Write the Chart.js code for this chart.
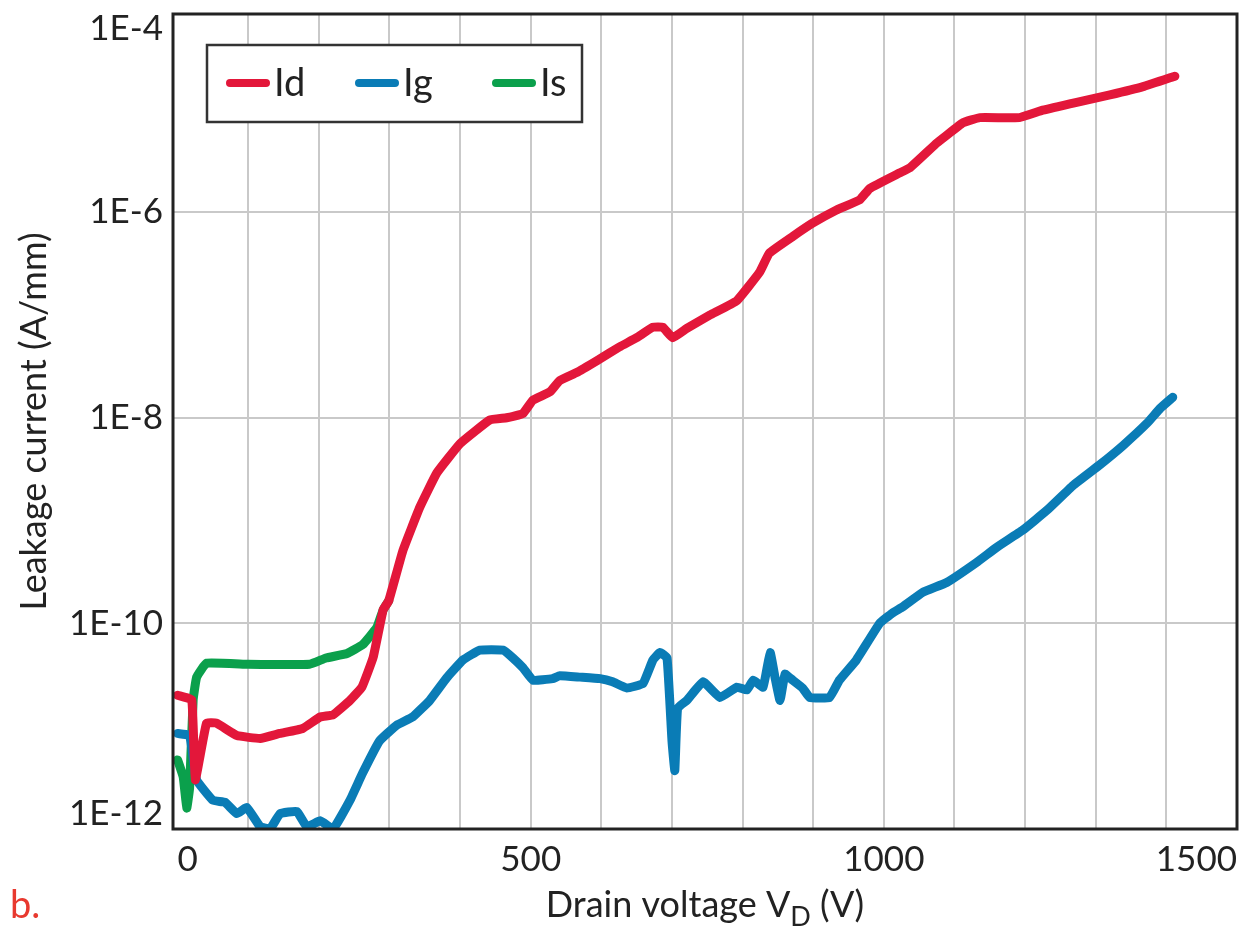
<!DOCTYPE html>
<html>
<head>
<meta charset="utf-8">
<script src="https://cdn.jsdelivr.net/npm/chart.js@4.4.1/dist/chart.umd.min.js"></script>
<style>
  html, body { margin: 0; padding: 0; background: #fff; }
  #wrap { width: 1241px; height: 937px; position: relative; }
</style>
</head>
<body>
<div id="wrap"><canvas id="leakage-chart" width="1241" height="937"></canvas></div>
<script>
// drain voltage (V) and leakage current (A/mm)
const idVolts = [0, 20, 25, 41, 55, 84, 117, 145, 177, 202, 220, 244, 261, 277, 291, 299, 319, 343, 367, 400,
    442, 466, 489, 503, 527, 541, 565, 594, 626, 650, 673, 687, 701, 721, 754, 792, 824, 838, 871, 899,
    933, 966, 980, 1022, 1037, 1075, 1089, 1112, 1136, 1192, 1225, 1273, 1320, 1367, 1412];
const idCurrent = [2.0e-11, 1.8e-11, 3.0e-12, 1.07e-11, 1.07e-11, 8.1e-12, 7.6e-12, 8.5e-12, 9.5e-12, 1.23e-11,
    1.29e-11, 1.78e-11, 2.4e-11, 4.7e-11, 1.35e-10, 1.66e-10, 5.1e-10, 1.35e-9, 2.9e-9, 5.6e-9,
    9.5e-9, 1.0e-8, 1.1e-8, 1.48e-8, 1.78e-8, 2.3e-8, 2.75e-8, 3.6e-8, 4.9e-8, 6.0e-8,
    7.6e-8, 7.6e-8, 6.0e-8, 7.4e-8, 1.0e-7, 1.38e-7, 2.6e-7, 4.0e-7, 5.8e-7, 7.8e-7,
    1.05e-6, 1.32e-6, 1.7e-6, 2.4e-6, 2.7e-6, 4.7e-6, 5.6e-6, 7.4e-6, 8.3e-6, 8.3e-6,
    9.8e-6, 1.17e-5, 1.38e-5, 1.66e-5, 2.1e-5];

const igVolts = [0, 17, 27, 50, 67, 84, 98, 117, 131, 145, 169, 183, 202, 220, 244, 262, 286, 310, 333, 357,
    381, 404, 428, 461, 475, 489, 503, 531, 541, 570, 598, 616, 636, 659, 673, 683, 693, 700, 704, 708,
    721, 744, 768, 792, 806, 815, 829, 839, 846, 853, 860, 871, 885, 895, 923, 937, 961, 994, 1012, 1027,
    1055, 1089, 1131, 1160, 1197, 1231, 1268, 1306, 1339, 1373, 1391, 1409];
const igCurrent = [8.5e-12, 8.1e-12, 3.0e-12, 1.9e-12, 1.82e-12, 1.41e-12, 1.62e-12, 1.05e-12, 1.0e-12, 1.41e-12,
    1.48e-12, 1.05e-12, 1.2e-12, 1.0e-12, 1.9e-12, 3.5e-12, 7.2e-12, 1.02e-11, 1.23e-11, 1.78e-11,
    2.95e-11, 4.4e-11, 5.5e-11, 5.5e-11, 4.6e-11, 3.7e-11, 2.8e-11, 2.9e-11, 3.1e-11, 3.0e-11,
    2.9e-11, 2.7e-11, 2.35e-11, 2.6e-11, 4.4e-11, 5.2e-11, 4.6e-11, 7.2e-12, 3.7e-12, 1.5e-11,
    1.78e-11, 2.7e-11, 1.9e-11, 2.4e-11, 2.25e-11, 2.8e-11, 2.4e-11, 5.2e-11, 2.95e-11, 1.78e-11,
    3.2e-11, 2.8e-11, 2.35e-11, 1.9e-11, 1.9e-11, 2.8e-11, 4.4e-11, 1.0e-10, 1.26e-10, 1.45e-10,
    2.0e-10, 2.5e-10, 3.9e-10, 5.5e-10, 8.1e-10, 1.26e-9, 2.2e-9, 3.5e-9, 5.4e-9, 8.9e-9,
    1.23e-8, 1.58e-8];

const isVolts = [0, 8, 13, 17, 22, 27, 41, 100, 187, 210, 240, 262, 282, 291, 299];
const isCurrent = [4.7e-12, 3.2e-12, 1.6e-12, 2.5e-12, 1.8e-11, 3.0e-11, 4.1e-11, 4.0e-11, 4.0e-11, 4.6e-11,
    5.1e-11, 6.2e-11, 9.1e-11, 1.35e-10, 1.66e-10];

const seriesNames = ['Id', 'Ig', 'Is'];
const seriesColors = ['#e3173a', '#0a7cb6', '#0ba04c'];

const xTickValues = [0, 100, 200, 300, 400, 500, 600, 700, 800, 900, 1000, 1100, 1200, 1300, 1400, 1500];
const xTickLabels = ['0', '', '', '', '', '500', '', '', '', '', '1000', '', '', '', '', '1500'];
const yTickValues = [1e-12, 1e-10, 1e-8, 1e-6, 8.45e-5];
const yTickLabels = ['1E-12', '1E-10', '1E-8', '1E-6', '1E-4'];

function toPoints(volts, current) {
    return volts.map((v, i) => ({ x: v, y: current[i] }));
}

Chart.defaults.font.family = 'Lato';
Chart.defaults.color = '#222';

// white legend box with a dark border, inside the plot
const legendBox = {
    id: 'legendBox',
    afterDraw(chart) {
        const ctx = chart.ctx;
        ctx.save();
        ctx.fillStyle = '#fff';
        ctx.fillRect(207, 45, 375, 77);
        ctx.strokeStyle = '#333';
        ctx.lineWidth = 2.5;
        ctx.strokeRect(207, 45, 375, 77);
        const starts = [227, 356, 493];
        ctx.font = '38px Lato';
        ctx.textBaseline = 'alphabetic';
        chart.data.datasets.forEach((ds, i) => {
            ctx.beginPath();
            ctx.lineCap = 'round';
            ctx.strokeStyle = ds.borderColor;
            ctx.lineWidth = 8;
            ctx.moveTo(starts[i] + 3, 83);
            ctx.lineTo(starts[i] + 39, 83);
            ctx.stroke();
            ctx.fillStyle = '#222';
            ctx.fillText(ds.label, starts[i] + 47, 96);
        });
        ctx.restore();
    }
};

// plot frame, x title with subscript, panel letter
const frameAndText = {
    id: 'frameAndText',
    afterDatasetsDraw(chart) {
        const a = chart.chartArea;
        const ctx = chart.ctx;
        ctx.save();
        ctx.strokeStyle = '#222';
        ctx.lineWidth = 3;
        ctx.strokeRect(a.left, a.top, a.right - a.left, a.bottom - a.top);
        ctx.restore();
    },
    afterDraw(chart) {
        const a = chart.chartArea;
        const ctx = chart.ctx;
        ctx.save();
        ctx.fillStyle = '#222';
        ctx.textBaseline = 'alphabetic';
        const main = 'Drain voltage V';
        const sub = 'D';
        const tail = ' (V)';
        ctx.font = '36px Lato';
        const w1 = ctx.measureText(main).width;
        const w3 = ctx.measureText(tail).width;
        ctx.font = '27px Lato';
        const w2 = ctx.measureText(sub).width;
        let x = (a.left + a.right) / 2 - (w1 + w2 + w3) / 2;
        ctx.font = '36px Lato';
        ctx.fillText(main, x, 917);
        x += w1;
        ctx.font = '27px Lato';
        ctx.fillText(sub, x, 926);
        x += w2;
        ctx.font = '36px Lato';
        ctx.fillText(tail, x, 917);

        ctx.fillStyle = '#e8392f';
        ctx.font = '38px Lato';
        ctx.fillText('b.', 10, 918);
        ctx.restore();
    }
};

const lineStyle = { borderWidth: 9, borderJoinStyle: 'round', borderCapStyle: 'round', tension: 0.1, pointRadius: 0 };

const ctx = document.getElementById('leakage-chart').getContext('2d');
const leakageChart = new Chart(ctx, {
    type: 'line',
    data: {
        datasets: [
            { label: seriesNames[0], data: toPoints(idVolts, idCurrent), borderColor: seriesColors[0], backgroundColor: seriesColors[0], order: 0, ...lineStyle },
            { label: seriesNames[1], data: toPoints(igVolts, igCurrent), borderColor: seriesColors[1], backgroundColor: seriesColors[1], order: 1, ...lineStyle },
            { label: seriesNames[2], data: toPoints(isVolts, isCurrent), borderColor: seriesColors[2], backgroundColor: seriesColors[2], order: 2, ...lineStyle }
        ]
    },
    options: {
        responsive: false,
        animation: false,
        clip: 0,
        layout: { padding: { left: 0, top: 14, right: 4, bottom: 0 } },
        plugins: {
            legend: { display: false },
            tooltip: { enabled: false }
        },
        scales: {
            x: {
                type: 'linear',
                min: -6.5,
                max: 1500,
                afterBuildTicks: scale => { scale.ticks = xTickValues.map(v => ({ value: v })); },
                afterFit: scale => {
                    scale.height = 108;
                    scale.paddingLeft = 0;
                    scale.paddingRight = 0;
                },
                border: { display: false },
                grid: {
                    drawTicks: false,
                    lineWidth: 2,
                    color: c => (c.tick && (c.tick.value === 0 || c.tick.value === 1500)) ? 'rgba(0,0,0,0)' : '#c9c9c9'
                },
                ticks: {
                    autoSkip: false,
                    maxRotation: 0,
                    align: 'inner',
                    padding: 10,
                    font: { size: 35 },
                    callback: (value, index) => xTickLabels[index]
                }
            },
            y: {
                type: 'logarithmic',
                min: 1e-12,
                max: 8.45e-5,
                afterBuildTicks: scale => { scale.ticks = yTickValues.map(v => ({ value: v })); },
                afterFit: scale => {
                    scale.width = 173;
                    scale.paddingTop = 0;
                    scale.paddingBottom = 0;
                },
                border: { display: false },
                grid: {
                    drawTicks: false,
                    lineWidth: 2,
                    color: c => (c.index === 0 || c.index === yTickValues.length - 1) ? 'rgba(0,0,0,0)' : '#c9c9c9'
                },
                ticks: {
                    padding: 10,
                    font: { size: 35, lineHeight: 0.85 },
                    callback: (value, index) => {
                        if (index === yTickValues.length - 1) return ['', yTickLabels[index]];
                        if (index === 0) return [yTickLabels[index], ''];
                        return yTickLabels[index];
                    }
                },
                title: {
                    display: true,
                    text: 'Leakage current (A/mm)',
                    font: { size: 36 },
                    padding: { top: 13, bottom: 0 }
                }
            }
        }
    },
    plugins: [frameAndText, legendBox]
});
</script>
</body>
</html>
